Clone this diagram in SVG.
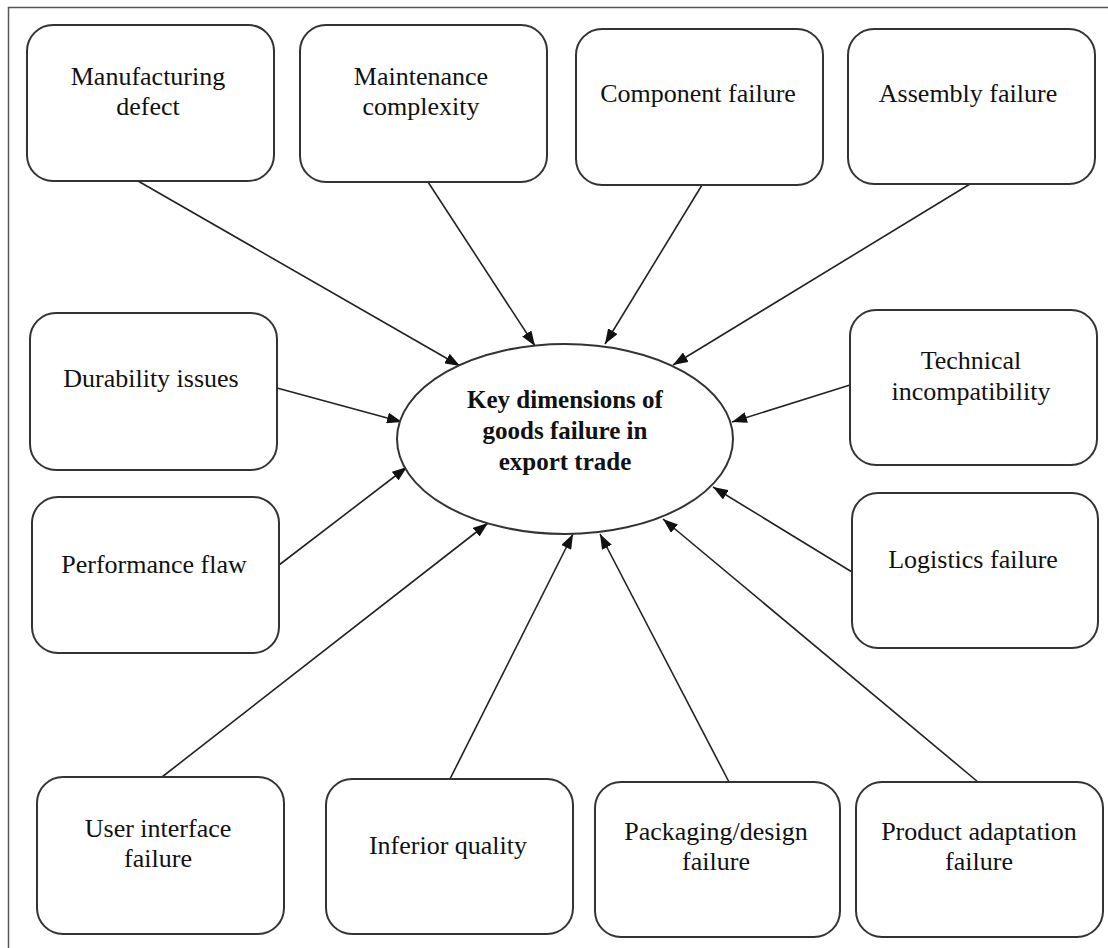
<svg xmlns="http://www.w3.org/2000/svg" width="1108" height="948" viewBox="0 0 1108 948">
<style>
.box{fill:#fff;stroke:#333;stroke-width:2}
.t{font-size:26px;fill:#111;text-anchor:middle}
.c{font-size:25px;font-weight:bold;fill:#111;text-anchor:middle}
.edge{stroke:#222;stroke-width:1.6;fill:none;marker-end:url(#ah)}
</style>
<defs>
<marker id="ah" viewBox="0 0 15 11" refX="15" refY="5.5" markerWidth="15" markerHeight="11" orient="auto" markerUnits="userSpaceOnUse">
<path d="M0,0 L15,5.5 L0,11 z" fill="#111"/>
</marker>
</defs>
<rect x="0" y="0" width="1108" height="948" fill="#fff"/>
<path d="M8.5,960 L8.5,7.5 L1120,7.5" fill="none" stroke="#555" stroke-width="1.5"/>

<g id="connectors">
<line class="edge" x1="138" y1="181" x2="460" y2="366"/>
<line class="edge" x1="428" y1="182" x2="535" y2="346"/>
<line class="edge" x1="702" y1="185" x2="605" y2="344"/>
<line class="edge" x1="970" y1="184" x2="673" y2="365"/>
<line class="edge" x1="277" y1="388" x2="402" y2="422"/>
<line class="edge" x1="279" y1="565" x2="407" y2="467"/>
<line class="edge" x1="850" y1="385" x2="732" y2="422"/>
<line class="edge" x1="852" y1="572" x2="713" y2="487"/>
<line class="edge" x1="162" y1="777" x2="488" y2="523"/>
<line class="edge" x1="450" y1="779" x2="573" y2="534"/>
<line class="edge" x1="729" y1="782" x2="600" y2="534"/>
<line class="edge" x1="978" y1="782" x2="663" y2="519"/>
</g>

<g font-family="'Liberation Serif', 'DejaVu Serif', serif">
<g id="center">
<ellipse cx="565" cy="439" rx="168" ry="95" fill="#fff" stroke="#333" stroke-width="2"/>
<text class="c" x="565" y="408">Key dimensions of</text>
<text class="c" x="565" y="439">goods failure in</text>
<text class="c" x="565" y="470">export trade</text>
</g>

<g id="manufacturing-defect">
<rect class="box" x="27" y="25" width="247" height="156" rx="26"/>
<text class="t" x="148" y="85">Manufacturing</text>
<text class="t" x="148" y="115">defect</text>
</g>
<g id="maintenance-complexity">
<rect class="box" x="300" y="25" width="247" height="157" rx="26"/>
<text class="t" x="421" y="85">Maintenance</text>
<text class="t" x="421" y="115">complexity</text>
</g>
<g id="component-failure">
<rect class="box" x="576" y="29" width="247" height="156" rx="26"/>
<text class="t" x="698" y="102">Component failure</text>
</g>
<g id="assembly-failure">
<rect class="box" x="848" y="29" width="247" height="155" rx="26"/>
<text class="t" x="968" y="102">Assembly failure</text>
</g>
<g id="durability-issues">
<rect class="box" x="30" y="313" width="247" height="157" rx="26"/>
<text class="t" x="151" y="387">Durability issues</text>
</g>
<g id="performance-flaw">
<rect class="box" x="32" y="497" width="247" height="156" rx="26"/>
<text class="t" x="154" y="573">Performance flaw</text>
</g>
<g id="technical-incompatibility">
<rect class="box" x="850" y="310" width="247" height="155" rx="26"/>
<text class="t" x="971" y="369">Technical</text>
<text class="t" x="971" y="400">incompatibility</text>
</g>
<g id="logistics-failure">
<rect class="box" x="852" y="493" width="246" height="155" rx="26"/>
<text class="t" x="973" y="568">Logistics failure</text>
</g>
<g id="user-interface-failure">
<rect class="box" x="37" y="777" width="247" height="157" rx="26"/>
<text class="t" x="158" y="837">User interface</text>
<text class="t" x="158" y="867">failure</text>
</g>
<g id="inferior-quality">
<rect class="box" x="326" y="779" width="247" height="155" rx="26"/>
<text class="t" x="448" y="854">Inferior quality</text>
</g>
<g id="packaging-design-failure">
<rect class="box" x="595" y="782" width="245" height="155" rx="26"/>
<text class="t" x="716" y="840">Packaging/design</text>
<text class="t" x="716" y="870">failure</text>
</g>
<g id="product-adaptation-failure">
<rect class="box" x="856" y="782" width="247" height="155" rx="26"/>
<text class="t" x="979" y="840">Product adaptation</text>
<text class="t" x="979" y="870">failure</text>
</g>
</g>
</svg>
